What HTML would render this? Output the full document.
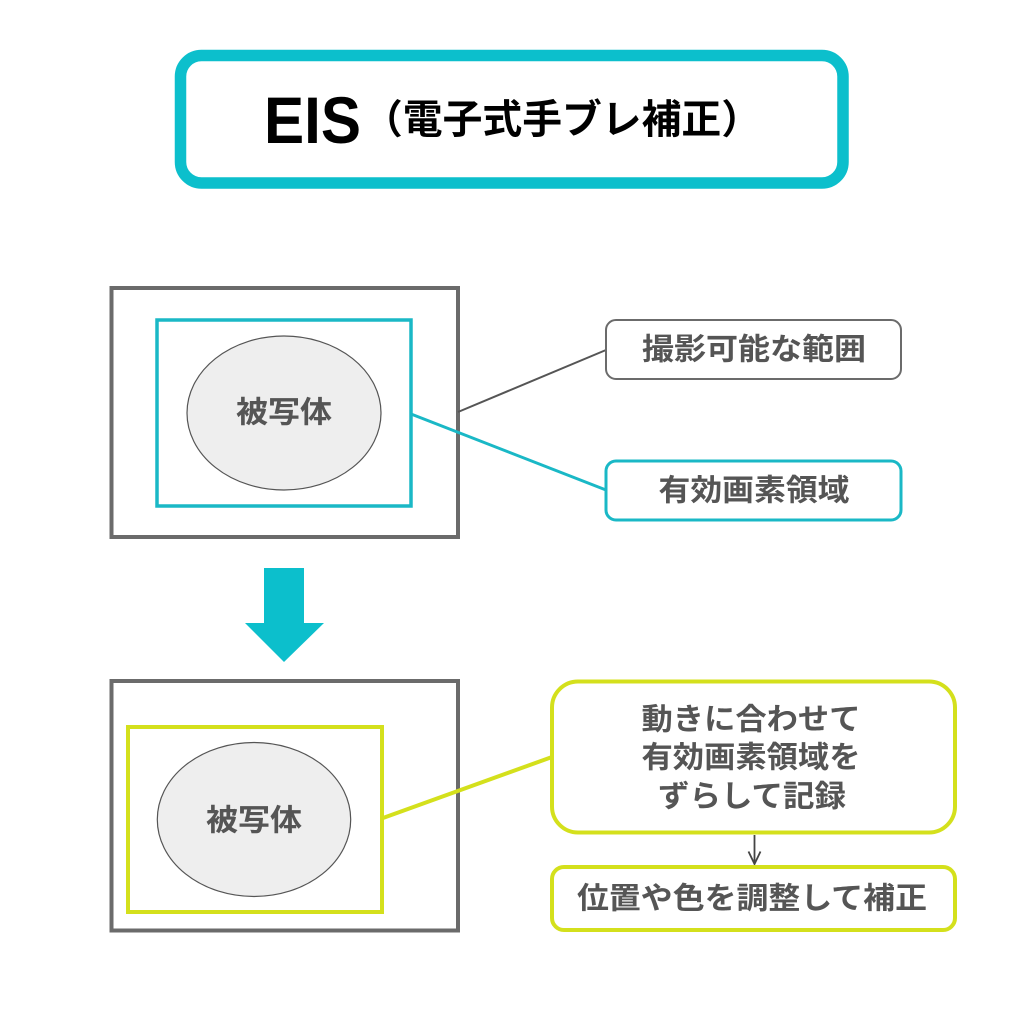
<!DOCTYPE html>
<html>
<head>
<meta charset="utf-8">
<style>
  html, body { margin:0; padding:0; background:#fff; }
  body { width:1024px; height:1024px; overflow:hidden; }
  svg { display:block; }
  .jp { font-family: "Liberation Sans", "Noto Sans CJK JP", sans-serif; font-weight:700; }
  .lbl { fill:#555555; font-size:30px; }
</style>
</head>
<body>
<svg width="1024" height="1024" viewBox="0 0 1024 1024" xmlns="http://www.w3.org/2000/svg">
  <rect x="0" y="0" width="1024" height="1024" fill="#ffffff"/>

  <!-- Title box -->
  <rect x="180.5" y="55.5" width="662.5" height="127.5" rx="21" ry="21" fill="#ffffff" stroke="#0cbfcc" stroke-width="11.5"/>
  <text x="264" y="143" font-family="Liberation Sans, sans-serif" font-weight="700" font-size="66" fill="#000" textLength="97" lengthAdjust="spacingAndGlyphs">EIS</text>
  <text x="363" y="120" class="jp" font-size="40" fill="#000" dominant-baseline="central" textLength="398" lengthAdjust="spacingAndGlyphs">（電子式手ブレ補正）</text>

  <!-- Top diagram -->
  <rect x="111.5" y="288" width="346.5" height="249" fill="none" stroke="#6b6b6b" stroke-width="4"/>
  <rect x="157" y="320" width="254" height="186" fill="none" stroke="#1ab8c6" stroke-width="3.5"/>
  <ellipse cx="284" cy="413" rx="97" ry="77" fill="#eeeeee" stroke="#555" stroke-width="1.2"/>
  <text x="284" y="413" class="jp lbl" text-anchor="middle" dominant-baseline="central" textLength="96" lengthAdjust="spacingAndGlyphs">被写体</text>

  <!-- connectors top -->
  <line x1="458" y1="412" x2="606" y2="350" stroke="#555" stroke-width="2"/>
  <line x1="411" y1="414" x2="606" y2="490" stroke="#1ab8c6" stroke-width="3"/>

  <!-- label boxes top -->
  <rect x="606" y="320" width="295" height="59" rx="10" ry="10" fill="#ffffff" stroke="#6b6b6b" stroke-width="2"/>
  <text x="754" y="350" class="jp lbl" text-anchor="middle" dominant-baseline="central" textLength="224" lengthAdjust="spacingAndGlyphs">撮影可能な範囲</text>

  <rect x="606" y="461" width="295" height="59" rx="10" ry="10" fill="#ffffff" stroke="#1ab8c6" stroke-width="3"/>
  <text x="754" y="491" class="jp lbl" text-anchor="middle" dominant-baseline="central" textLength="191" lengthAdjust="spacingAndGlyphs">有効画素領域</text>

  <!-- Big down arrow -->
  <polygon points="264,568 304,568 304,623 324,623 284,662 245,623 264,623" fill="#0cbfcc"/>

  <!-- Bottom diagram -->
  <rect x="111.5" y="681" width="346.5" height="249.5" fill="none" stroke="#6b6b6b" stroke-width="4"/>
  <rect x="128" y="727" width="254" height="185" fill="none" stroke="#d4e01c" stroke-width="4"/>
  <ellipse cx="254" cy="819.5" rx="96.7" ry="77" fill="#eeeeee" stroke="#555" stroke-width="1.2"/>
  <text x="254" y="821" class="jp lbl" text-anchor="middle" dominant-baseline="central" textLength="96" lengthAdjust="spacingAndGlyphs">被写体</text>

  <!-- connector bottom -->
  <line x1="383" y1="818" x2="552" y2="757" stroke="#d4e01c" stroke-width="4"/>

  <!-- Big rounded box -->
  <rect x="552" y="681.5" width="403" height="151" rx="26" ry="26" fill="#ffffff" stroke="#d4e01c" stroke-width="4"/>
  <text x="751" y="720" class="jp lbl" text-anchor="middle" dominant-baseline="central" textLength="219" lengthAdjust="spacingAndGlyphs">動きに合わせて</text>
  <text x="751" y="758" class="jp lbl" text-anchor="middle" dominant-baseline="central" textLength="219" lengthAdjust="spacingAndGlyphs">有効画素領域を</text>
  <text x="752" y="797" class="jp lbl" text-anchor="middle" dominant-baseline="central" textLength="188" lengthAdjust="spacingAndGlyphs">ずらして記録</text>

  <!-- small arrow -->
  <line x1="754.5" y1="835" x2="754.5" y2="864" stroke="#444" stroke-width="1.8"/>
  <polyline points="748.5,851.5 754.5,864 760.5,851.5" fill="none" stroke="#444" stroke-width="1.8"/>

  <!-- Bottom small box -->
  <rect x="552" y="867" width="403" height="63" rx="12" ry="12" fill="#ffffff" stroke="#d4e01c" stroke-width="4"/>
  <text x="752" y="899" class="jp lbl" text-anchor="middle" dominant-baseline="central" textLength="350" lengthAdjust="spacingAndGlyphs">位置や色を調整して補正</text>
</svg>
</body>
</html>
